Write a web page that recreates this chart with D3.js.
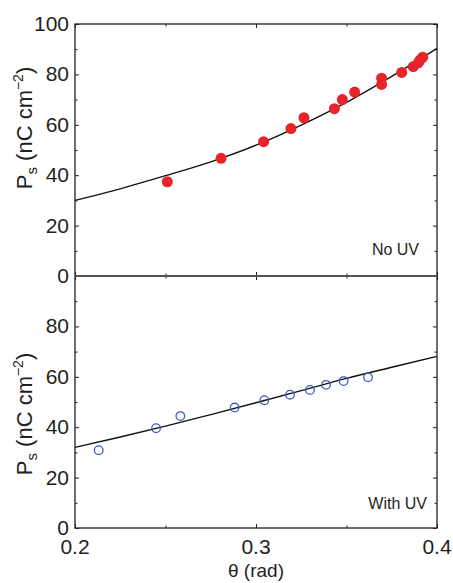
<!DOCTYPE html>
<html>
<head>
<meta charset="utf-8">
<script src="https://cdn.jsdelivr.net/npm/d3@7"></script>
<style>
  body { margin: 0; background: #fff; }
  text { font-family: "Liberation Sans", Arial, sans-serif; fill: #231f20; }
</style>
</head>
<body>
<div id="chart"></div>
<script>
// top panel: no UV (filled red)
const noUvTheta = [0.251, 0.2807, 0.3042, 0.3193, 0.3265, 0.3433, 0.3477, 0.3545, 0.3694, 0.3694, 0.3805, 0.3869, 0.3897, 0.3906, 0.3921];
const noUvPs = [37.4, 46.7, 53.3, 58.5, 62.8, 66.4, 70.0, 73.0, 78.5, 76.0, 80.8, 83.1, 84.6, 85.7, 86.8];
// bottom panel: with UV (open blue)
const uvTheta = [0.2131, 0.2448, 0.2582, 0.2882, 0.3046, 0.3188, 0.3298, 0.3387, 0.3484, 0.3619];
const uvPs = [30.9, 39.6, 44.4, 47.8, 50.7, 52.9, 54.8, 56.8, 58.3, 59.8];
// fit lines
const fitTheta = [0.2, 0.225, 0.25, 0.275, 0.3, 0.325, 0.35, 0.375, 0.4];
const noUvFit = [30.0, 34.6, 39.8, 45.3, 51.9, 59.9, 68.9, 79.2, 90.3];
const uvFit = [32.0, 36.1, 40.4, 45.0, 49.7, 54.5, 59.4, 63.8, 68.1];
const xTicks = [0.2, 0.3, 0.4];
const xMinor = [0.25, 0.35];
const yTicksTop = [0, 20, 40, 60, 80, 100];
const yTicksBottom = [0, 20, 40, 60, 80];
const yMinor = [10, 30, 50, 70, 90];

const width = 453, height = 583;
const m = { left: 75, right: 437, top: 24, mid: 276, bottom: 528 };
const ink = "#231f20";

const svg = d3.select("#chart").append("svg")
    .attr("width", width)
    .attr("height", height);

const x = d3.scaleLinear().domain([0.2, 0.4]).range([m.left, m.right]);
const yTop = d3.scaleLinear().domain([0, 100]).range([m.mid, m.top]);
const yBot = d3.scaleLinear().domain([0, 100]).range([m.bottom, m.mid]);

function ticks(g, axis, pos, vals, size) {
    g.append("g")
        .attr("transform", pos)
        .call(axis.tickValues(vals).tickSize(size).tickFormat(""))
        .call(a => a.select(".domain").remove());
}

function panel(y, yTicks, fitVals, th, ps, filled, label, titleY) {
    const g = svg.append("g");
    const y0 = y.range()[0], y1 = y.range()[1];

    // inward ticks on all four sides
    ticks(g, d3.axisRight(y), `translate(${m.left},0)`, yTicks, 4);
    ticks(g, d3.axisRight(y), `translate(${m.left},0)`, yMinor, 2.5);
    ticks(g, d3.axisLeft(y), `translate(${m.right},0)`, yTicks, 4);
    ticks(g, d3.axisLeft(y), `translate(${m.right},0)`, yMinor, 2.5);
    ticks(g, d3.axisTop(x), `translate(0,${y0})`, xTicks, 4);
    ticks(g, d3.axisTop(x), `translate(0,${y0})`, xMinor, 2.5);
    ticks(g, d3.axisBottom(x), `translate(0,${y1})`, xTicks, 4);
    ticks(g, d3.axisBottom(x), `translate(0,${y1})`, xMinor, 2.5);
    g.selectAll(".tick line").attr("stroke", ink).attr("stroke-width", 1);

    // tick labels
    g.selectAll(".ylab")
        .data(yTicks)
        .join("text")
        .attr("x", m.left - 6)
        .attr("y", d => y(d) + 7)
        .attr("text-anchor", "end")
        .attr("font-size", 21)
        .text(d => d);

    // fit line
    const line = d3.line()
        .x((d, i) => x(fitTheta[i]))
        .y(d => y(d))
        .curve(d3.curveMonotoneX);
    g.append("path")
        .datum(fitVals)
        .attr("d", line)
        .attr("fill", "none")
        .attr("stroke", "#111")
        .attr("stroke-width", 1.4);

    // points
    g.selectAll("circle")
        .data(th.map((t, i) => ({ t, p: ps[i] })))
        .join("circle")
        .attr("cx", d => x(d.t))
        .attr("cy", d => y(d.p))
        .attr("r", filled ? 5.5 : 4.3)
        .attr("fill", filled ? "#e8242a" : "none")
        .attr("stroke", filled ? "none" : "#3d5cbf")
        .attr("stroke-width", 1.3);

    g.append("text")
        .attr("x", label.x)
        .attr("y", label.y)
        .attr("text-anchor", "end")
        .attr("font-size", 16)
        .text(label.text);

    // y title
    const t = g.append("text")
        .attr("transform", `translate(32,${titleY}) rotate(-90)`)
        .attr("text-anchor", "middle")
        .attr("font-size", 22);
    t.append("tspan").text("P");
    t.append("tspan").attr("font-size", 15).attr("dy", 5).text("s");
    t.append("tspan").attr("dy", -5).text(" (nC cm");
    t.append("tspan").attr("font-size", 14).attr("dy", -9).text("\u22122");
    t.append("tspan").attr("dy", 9).text(")");
}

panel(yTop, yTicksTop, noUvFit, noUvTheta, noUvPs, true, { x: 419, y: 255, text: "No UV" }, 128);
panel(yBot, yTicksBottom, uvFit, uvTheta, uvPs, false, { x: 427, y: 509, text: "With UV" }, 414);

// frame
svg.append("rect")
    .attr("x", m.left).attr("y", m.top)
    .attr("width", m.right - m.left).attr("height", m.bottom - m.top)
    .attr("fill", "none")
    .attr("stroke", ink)
    .attr("stroke-width", 1.3);
svg.append("line")
    .attr("x1", m.left).attr("x2", m.right)
    .attr("y1", m.mid).attr("y2", m.mid)
    .attr("stroke", "#555")
    .attr("stroke-width", 1.8);

// x tick labels
svg.selectAll(".xlab")
    .data(xTicks)
    .join("text")
    .attr("x", d => x(d))
    .attr("y", 554)
    .attr("text-anchor", "middle")
    .attr("font-size", 21)
    .text(d => d3.format(".1f")(d));

svg.append("text")
    .attr("x", (m.left + m.right) / 2)
    .attr("y", 577)
    .attr("text-anchor", "middle")
    .attr("font-size", 19)
    .text("\u03b8 (rad)");
</script>
</body>
</html>
